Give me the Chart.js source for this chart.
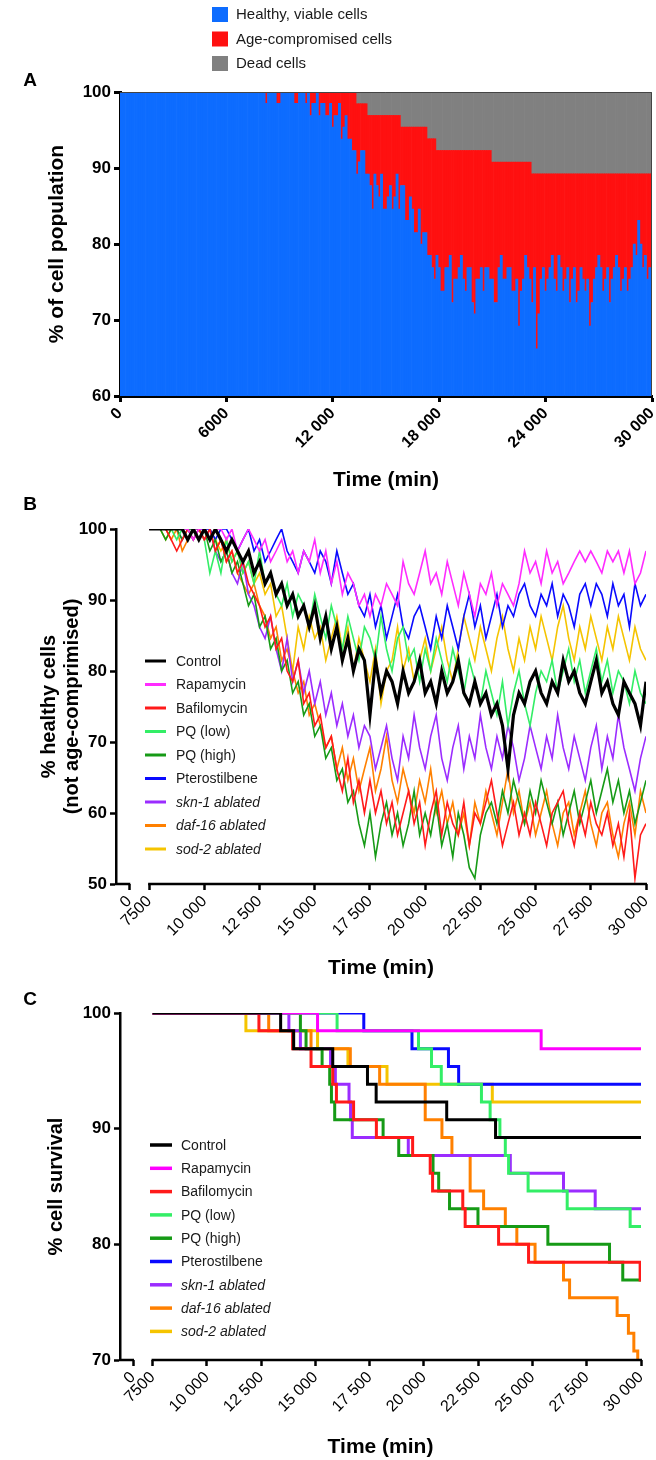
<!DOCTYPE html>
<html>
<head>
<meta charset="utf-8">
<script src="https://cdn.jsdelivr.net/npm/chart.js@4.4.0/dist/chart.umd.min.js"></script>
<style>
  body { margin: 0; background: #fff; }
  #wrap { position: relative; width: 656px; height: 1460px; }
  canvas { position: absolute; left: 0; }
</style>
</head>
<body>
<div id="wrap">
  <canvas id="chartA" width="656" height="500" style="top:0"></canvas>
  <canvas id="chartB" width="656" height="515" style="top:470px"></canvas>
  <canvas id="chartC" width="656" height="500" style="top:960px"></canvas>
</div>
<script>
// ---------- panel A: population state, one bar every 125 min ----------
let popTimes = [];
for (let t = 0; t <= 30000; t += 125) popTimes.push(t);

let healthyPct = [
  // 0 - 7875
  100,100,100,100,100,100,100,100, 100,100,100,100,100,100,100,100,
  100,100,100,100,100,100,100,100, 100,100,100,100,100,100,100,100,
  100,100,100,100,100,100,100,100, 100,100,100,100,100,100,100,100,
  100,100,100,100,100,100,100,100, 100,100,100,100,100,100,100,100,
  // 8000 - 29875, 1000 min per row
  100,100,98.5,100,100,100,100,98.5,
  98.5,100,100,100,100,100,100,98.5,
  98.5,100,100,100,98.5,100,96.9,98.5,
  98.5,100,96.9,98.5,98.5,96.9,96.9,98.5,
  95.4,96.9,96.9,98.5,93.8,95.4,96.9,93.8,
  93.8,92.3,92.3,89.2,90.8,92.3,92.3,89.2,
  89.2,87.7,84.6,89.2,87.7,86.2,89.2,84.6,
  84.6,86.2,87.7,84.6,86.2,89.2,84.6,87.7,
  87.7,83.1,83.1,86.2,84.6,81.5,81.5,84.6,
  80,81.5,81.5,78.5,78.5,76.9,75.4,78.5,
  76.9,73.8,73.8,76.9,76.9,78.5,72.3,75.4,
  75.4,76.9,78.5,75.4,73.8,76.9,76.9,72.3,
  70.8,75.4,75.4,76.9,73.8,76.9,76.9,75.4,
  75.4,72.3,72.3,76.9,78.5,75.4,75.4,76.9,
  76.9,73.8,73.8,75.4,69.2,73.8,75.4,78.5,
  76.9,75.4,72.3,76.9,66.2,70.8,75.4,76.9,
  73.8,75.4,76.9,78.5,75.4,73.8,78.5,76.9,
  73.8,75.4,76.9,72.3,75.4,76.9,72.3,73.8,
  76.9,75.4,73.8,75.4,69.2,72.3,75.4,76.9,
  78.5,76.9,73.8,75.4,76.9,72.3,75.4,76.9,
  78.5,76.9,73.8,75.4,76.9,73.8,75.4,76.9,
  80,78.5,83.1,80,76.9,78.5,75.4,76.9,
  // 30000
  75.4
];
// dead fraction only ever steps up
let deadFrom  = [13300, 14000, 15800, 17300, 17800, 21000, 23250];
let deadLevel = [1.54, 3.08, 4.62, 6.15, 7.69, 9.23, 10.77];

// ---------- panel B: % healthy cells, sampled every 250 min ----------
let timesB = [];
for (let t = 7500; t <= 30000; t += 250) timesB.push(t);
let tickMarksB = [6600, 7500, 10000, 12500, 15000, 17500, 20000, 22500, 25000, 27500, 30000];
const ZERO_MARK = 6600; // where the "0" sits before the axis break

let controlB = [
  100,100,100,100,100,100,100,98.5,100,98.5,
  100,98.5,100,98.5,96.9,98.5,96.9,95.4,96.9,93.8,
  95.4,92.3,93.8,90.8,92.3,89.2,90.8,87.7,89.2,86.2,
  89.2,84.6,87.7,83.1,86.2,81.5,84.6,80,83.1,81.5,
  73.8,81.5,76.9,80,78.5,75.4,80,76.9,78.5,81.5,
  76.9,78.5,75.4,80,76.9,78.5,81.5,76.9,75.4,78.5,
  75.4,76.9,73.8,75.4,72.3,66.2,73.8,76.9,75.4,78.5,
  80,76.9,75.4,78.5,76.9,81.5,78.5,80,76.9,75.4,
  78.5,81.5,76.9,78.5,75.4,73.8,78.5,76.9,75.4,72.3,
  78.5
];
let rapamycinB = [
  100,100,100,100,100,100,100,100,98.5,100,
  100,98.5,100,100,98.5,100,96.9,98.5,100,98.5,
  96.9,98.5,95.4,96.9,98.5,95.4,96.9,93.8,96.9,95.4,
  98.5,93.8,96.9,92.3,95.4,90.8,93.8,92.3,89.2,90.8,
  87.7,90.8,89.2,92.3,90.8,89.2,95.4,92.3,90.8,93.8,
  96.9,92.3,93.8,90.8,95.4,92.3,89.2,93.8,90.8,87.7,
  92.3,90.8,93.8,89.2,92.3,90.8,89.2,92.3,96.9,93.8,
  95.4,92.3,96.9,93.8,95.4,92.3,93.8,95.4,96.9,95.4,
  96.9,95.4,93.8,96.9,95.4,96.9,93.8,96.9,92.3,93.8,
  96.9
];
let bafilomycinB = [
  100,100,100,100,98.5,96.9,98.5,100,98.5,100,
  98.5,100,96.9,98.5,95.4,96.9,93.8,95.4,92.3,90.8,
  89.2,86.2,87.7,83.1,84.6,80,78.5,81.5,75.4,76.9,
  72.3,73.8,69.2,70.8,66.2,63.1,67.7,61.5,64.6,60,
  64.6,60,63.1,58.5,61.5,56.9,60,63.1,58.5,61.5,
  55.4,60,63.1,56.9,61.5,58.5,56.9,61.5,55.4,60,
  58.5,61.5,64.6,60,55.4,58.5,61.5,56.9,60,56.9,
  61.5,58.5,55.4,60,61.5,63.1,58.5,55.4,60,56.9,
  61.5,58.5,56.9,60,55.4,58.5,53.8,60,50.8,56.9,
  58.5
];
let pqLowB = [
  100,100,100,100,100,98.5,100,100,98.5,100,
  98.5,93.8,96.9,93.8,98.5,95.4,96.9,93.8,95.4,92.3,
  96.9,92.3,93.8,90.8,89.2,92.3,87.7,90.8,89.2,86.2,
  90.8,87.7,84.6,89.2,86.2,83.1,87.7,84.6,81.5,86.2,
  84.6,81.5,87.7,83.1,80,84.6,86.2,81.5,83.1,78.5,
  83.1,80,84.6,81.5,78.5,83.1,80,76.9,81.5,78.5,
  75.4,80,76.9,73.8,78.5,72.3,76.9,80,75.4,72.3,
  76.9,80,78.5,81.5,76.9,80,83.1,78.5,81.5,76.9,
  80,83.1,78.5,81.5,76.9,80,78.5,75.4,80,76.9,
  75.4
];
let pqHighB = [
  100,100,100,98.5,100,100,98.5,100,100,98.5,
  100,96.9,98.5,95.4,96.9,93.8,95.4,92.3,89.2,90.8,
  86.2,87.7,83.1,84.6,80,81.5,76.9,78.5,73.8,75.4,
  70.8,72.3,67.7,69.2,64.6,66.2,61.5,63.1,58.5,55.4,
  60,53.8,58.5,61.5,56.9,60,55.4,58.5,63.1,56.9,
  60,56.9,61.5,55.4,58.5,53.8,60,56.9,52.3,50.8,
  56.9,60,61.5,58.5,63.1,60,64.6,61.5,58.5,63.1,
  60,64.6,61.5,58.5,61.5,56.9,60,63.1,58.5,61.5,
  64.6,60,63.1,66.2,61.5,64.6,60,63.1,58.5,61.5,
  64.6
];
let pterostilbeneB = [
  100,100,100,100,100,100,100,100,98.5,100,
  100,100,98.5,100,100,98.5,96.9,98.5,100,96.9,
  98.5,95.4,96.9,98.5,100,96.9,95.4,93.8,96.9,95.4,
  93.8,96.9,95.4,92.3,96.9,93.8,90.8,92.3,89.2,87.7,
  90.8,86.2,89.2,84.6,87.7,90.8,86.2,84.6,87.7,89.2,
  86.2,83.1,87.7,84.6,89.2,86.2,83.1,87.7,90.8,86.2,
  89.2,84.6,87.7,90.8,86.2,89.2,87.7,90.8,92.3,89.2,
  87.7,90.8,89.2,92.3,87.7,90.8,89.2,86.2,90.8,92.3,
  89.2,92.3,90.8,87.7,92.3,89.2,90.8,86.2,92.3,89.2,
  90.8
];
let skn1B = [
  100,100,100,100,100,100,98.5,100,100,100,
  98.5,100,96.9,95.4,96.9,93.8,92.3,95.4,90.8,89.2,
  86.2,84.6,87.7,83.1,80,84.6,78.5,81.5,76.9,80,
  75.4,78.5,73.8,76.9,72.3,75.4,70.8,73.8,69.2,72.3,
  70.8,66.2,69.2,72.3,67.7,64.6,70.8,67.7,73.8,69.2,
  66.2,70.8,73.8,67.7,64.6,69.2,72.3,66.2,70.8,67.7,
  73.8,69.2,66.2,70.8,67.7,72.3,69.2,64.6,67.7,72.3,
  69.2,66.2,70.8,67.7,73.8,69.2,66.2,70.8,67.7,64.6,
  69.2,72.3,66.2,70.8,67.7,73.8,69.2,66.2,63.1,67.7,
  70.8
];
let daf16B = [
  100,100,100,100,98.5,100,96.9,98.5,100,100,
  98.5,100,96.9,98.5,95.4,96.9,93.8,92.3,90.8,92.3,
  89.2,87.7,84.6,86.2,81.5,83.1,80,76.9,78.5,73.8,
  75.4,72.3,69.2,70.8,66.2,69.2,64.6,67.7,63.1,66.2,
  69.2,63.1,66.2,70.8,64.6,61.5,66.2,63.1,60,64.6,
  61.5,66.2,60,63.1,58.5,61.5,56.9,60,55.4,61.5,
  58.5,63.1,60,56.9,61.5,66.2,60,63.1,58.5,61.5,
  56.9,60,63.1,58.5,55.4,60,61.5,56.9,60,63.1,
  58.5,55.4,60,61.5,56.9,53.8,58.5,61.5,56.9,63.1,
  60
];
let sod2B = [
  100,100,100,98.5,100,100,100,98.5,100,100,
  98.5,100,98.5,96.9,98.5,95.4,96.9,93.8,95.4,92.3,
  93.8,90.8,92.3,87.7,89.2,84.6,80,86.2,83.1,87.7,
  84.6,86.2,81.5,84.6,87.7,83.1,86.2,80,84.6,81.5,
  78.5,83.1,75.4,80,81.5,86.2,80,83.1,78.5,81.5,
  84.6,80,83.1,86.2,81.5,78.5,83.1,87.7,84.6,81.5,
  86.2,83.1,80,84.6,87.7,83.1,80,84.6,81.5,86.2,
  83.1,87.7,84.6,81.5,86.2,89.2,84.6,81.5,86.2,83.1,
  87.7,84.6,81.5,86.2,83.1,87.7,84.6,81.5,86.2,83.1,
  81.5
];

// ---------- panel C: survival, time of each drop and the new level ----------
let controlT = [7500, 13400, 14000, 15800, 17400, 17800, 21050, 23300, 30000];
let controlS = [100, 98.46, 96.92, 95.38, 93.85, 92.31, 90.77, 89.23, 89.23];
let rapamycinT = [7500, 15100, 25400, 30000];
let rapamycinS = [100, 98.46, 96.92, 96.92];
let bafilomycinT = [7500, 12400, 13950, 14800, 15800, 15970, 16760, 17810, 19480, 20290, 20400, 21790, 21900, 23440, 24820, 29960, 30000];
let bafilomycinS = [100, 98.46, 96.92, 95.38, 93.85, 92.31, 90.77, 89.23, 87.69, 86.15, 84.62, 83.08, 81.54, 80, 78.46, 76.92, 76.92];
let pqLowT = [7500, 16000, 19750, 20350, 20800, 22650, 23050, 23500, 23750, 23900, 24800, 26600, 29500, 30000];
let pqLowS = [100, 98.46, 96.92, 95.38, 93.85, 92.31, 90.77, 89.23, 87.69, 86.15, 84.62, 83.08, 81.54, 81.54];
let pqHighT = [7500, 14310, 14570, 15310, 15660, 15740, 15890, 18120, 18840, 20420, 20680, 21180, 22490, 25710, 28550, 29160, 30000];
let pqHighS = [100, 98.46, 96.92, 95.38, 93.85, 92.31, 90.77, 89.23, 87.69, 86.15, 84.62, 83.08, 81.54, 80, 78.46, 76.92, 76.92];
let pterostilbeneT = [7500, 17230, 19450, 21130, 21600, 30000];
let pterostilbeneS = [100, 98.46, 96.92, 95.38, 93.85, 93.85];
let skn1T = [7500, 13780, 14310, 15700, 15920, 16550, 16620, 16700, 19280, 23980, 26430, 27890, 30000];
let skn1S = [100, 98.46, 96.92, 95.38, 93.85, 92.31, 90.77, 89.23, 87.69, 86.15, 84.62, 83.08, 83.08];
let daf16T = [7500, 12850, 14800, 16610, 17960, 20060, 20830, 21290, 22130, 22750, 23750, 24280, 25120, 26430, 26710, 28900, 29420, 29670, 29850, 30000];
let daf16S = [100, 98.46, 96.92, 95.38, 93.85, 90.77, 89.23, 87.69, 84.62, 83.08, 81.54, 80, 78.46, 76.92, 75.38, 73.85, 72.31, 70.77, 69.23, 69.23];
let sod2T = [7500, 11800, 15100, 16500, 18300, 23150, 30000];
let sod2S = [100, 98.46, 96.92, 95.38, 93.85, 92.31, 92.31];

let seriesNames = ['Control', 'Rapamycin', 'Bafilomycin', 'PQ (low)', 'PQ (high)', 'Pterostilbene', 'skn-1 ablated', 'daf-16 ablated', 'sod-2 ablated'];
let seriesColors = ['#000000', '#ff2cff', '#ff1a1a', '#33ee66', '#169a16', '#0a0aff', '#9b2cff', '#ff8000', '#f5c400'];

// ---------- helpers ----------
Chart.defaults.font.family = '"Liberation Sans", Arial, sans-serif';
Chart.defaults.color = '#000';
Chart.defaults.animation = false;

function fmtTime(v) {
  if (v >= 10000) return String(v).replace(/\B(?=(\d{3})+(?!\d))/g, ' ');
  return String(v);
}
function pairs(xs, ys) {
  return xs.map((x, i) => ({ x: x, y: ys[i] }));
}

let deadPct = popTimes.map(function(t) {
  let d = 0;
  deadFrom.forEach(function(from, i) { if (t >= from) d = deadLevel[i]; });
  return d;
});
let agedPct = popTimes.map((t, i) => +(100 - healthyPct[i] - deadPct[i]).toFixed(2));

// panel letter
const panelTag = {
  id: 'panelTag',
  afterDraw(chart, args, opts) {
    const ctx = chart.ctx;
    ctx.save();
    ctx.font = 'bold 19px "Liberation Sans"';
    ctx.fillStyle = '#000';
    ctx.textAlign = 'center';
    ctx.textBaseline = 'middle';
    ctx.fillText(opts.text, opts.x, opts.y);
    ctx.restore();
  }
};

// colour boxes above panel A
const boxKey = {
  id: 'boxKey',
  afterDraw(chart, args, opts) {
    const ctx = chart.ctx;
    ctx.save();
    ctx.font = opts.size + 'px "Liberation Sans"';
    ctx.textBaseline = 'middle';
    chart.data.datasets.forEach(function(ds, i) {
      const y = opts.top + i * opts.gap;
      ctx.fillStyle = ds.backgroundColor;
      ctx.fillRect(opts.left, y - opts.box / 2, opts.box, opts.box - 1);
      ctx.fillStyle = '#1a1a1a';
      ctx.fillText(ds.label, opts.left + opts.box + opts.textGap, y);
    });
    ctx.restore();
  }
};

// thin frame on the top and right of panel A
const frameLines = {
  id: 'frameLines',
  afterDraw(chart) {
    const a = chart.chartArea, ctx = chart.ctx;
    ctx.save();
    ctx.strokeStyle = '#444';
    ctx.lineWidth = 1;
    ctx.beginPath();
    ctx.moveTo(a.left, a.top + 0.5);
    ctx.lineTo(a.right - 0.5, a.top + 0.5);
    ctx.lineTo(a.right - 0.5, a.bottom);
    ctx.stroke();
    ctx.restore();
  }
};

// line samples + names for B and C
const lineKey = {
  id: 'lineKey',
  afterDraw(chart, args, opts) {
    const ctx = chart.ctx;
    ctx.save();
    ctx.textBaseline = 'middle';
    chart.data.datasets.forEach(function(ds, i) {
      const y = opts.top + i * opts.gap;
      ctx.strokeStyle = ds.borderColor;
      ctx.lineWidth = opts.lineWidth;
      ctx.beginPath();
      ctx.moveTo(opts.left, y);
      ctx.lineTo(opts.left + opts.len, y);
      ctx.stroke();
      ctx.font = (ds.label.indexOf('ablated') >= 0 ? 'italic ' : '') + opts.size + 'px "Liberation Sans"';
      ctx.fillStyle = '#1a1a1a';
      ctx.fillText(ds.label, opts.left + opts.len + opts.textGap, y + 1);
    });
    ctx.restore();
  }
};

// x axis with a break between 0 and 7500
const brokenAxis = {
  id: 'brokenAxis',
  afterDraw(chart, args, opts) {
    const x = chart.scales.x, a = chart.chartArea, ctx = chart.ctx;
    ctx.save();
    ctx.strokeStyle = '#000';
    ctx.lineWidth = opts.width;
    ctx.beginPath();
    ctx.moveTo(a.left - 1, a.bottom);
    ctx.lineTo(x.getPixelForValue(opts.zeroAt) + 1, a.bottom);
    ctx.moveTo(x.getPixelForValue(opts.restartAt) - 1, a.bottom);
    ctx.lineTo(a.right + 1, a.bottom);
    ctx.stroke();
    ctx.restore();
  }
};

function tickGrid(width) {
  return { display: true, drawOnChartArea: false, drawTicks: true, tickLength: 6, tickWidth: width, tickColor: '#000' };
}

// ---------- A ----------
new Chart(document.getElementById('chartA'), {
  type: 'bar',
  data: {
    datasets: [
      { label: 'Healthy, viable cells', data: pairs(popTimes, healthyPct), backgroundColor: '#0d6cff' },
      { label: 'Age-compromised cells', data: pairs(popTimes, agedPct), backgroundColor: '#ff1010' },
      { label: 'Dead cells', data: pairs(popTimes, deadPct), backgroundColor: '#808080' }
    ]
  },
  options: {
    responsive: false,
    layout: { padding: { left: 0, right: 4, top: 92, bottom: 0 } },
    datasets: { bar: { barPercentage: 1, categoryPercentage: 1, borderWidth: 0 } },
    scales: {
      x: {
        type: 'linear', stacked: true, offset: false, min: 0, max: 30000,
        ticks: { stepSize: 6000, autoSkip: false, minRotation: 45, maxRotation: 45, padding: 2,
                 font: { size: 16, weight: 'bold' }, callback: v => fmtTime(v) },
        grid: Object.assign(tickGrid(3), { offset: false }),
        border: { display: true, width: 3, color: '#000' },
        title: { display: true, text: 'Time (min)', font: { size: 21, weight: 'bold' }, padding: { top: 0, bottom: 7 } },
        afterFit: s => { s.height = 104; s.paddingLeft = 0; s.paddingRight = 0; }
      },
      y: {
        stacked: true, min: 60, max: 100,
        ticks: { stepSize: 10, font: { size: 17, weight: 'bold' } },
        grid: tickGrid(3),
        border: { display: true, width: 3, color: '#000' },
        title: { display: true, text: '% of cell population', font: { size: 21, weight: 'bold' }, padding: { top: 45, bottom: 0 } },
        afterFit: s => { s.width = 120; s.paddingTop = 0; s.paddingBottom = 0; }
      }
    },
    plugins: {
      legend: { display: false },
      tooltip: { enabled: false },
      boxKey: { left: 212, top: 15, gap: 24.5, box: 16, textGap: 8, size: 15 },
      panelTag: { text: 'A', x: 30, y: 81 }
    }
  },
  plugins: [frameLines, boxKey, panelTag]
});

// ---------- B ----------
let healthySeries = [controlB, rapamycinB, bafilomycinB, pqLowB, pqHighB, pterostilbeneB, skn1B, daf16B, sod2B];
new Chart(document.getElementById('chartB'), {
  type: 'line',
  data: {
    datasets: healthySeries.map(function(vals, i) {
      return {
        label: seriesNames[i],
        data: pairs(timesB, vals),
        borderColor: seriesColors[i],
        borderWidth: i === 0 ? 3.2 : 1.6,
        pointRadius: 0,
        tension: 0
      };
    })
  },
  options: {
    responsive: false,
    layout: { padding: { left: 0, right: 10, top: 59, bottom: 0 } },
    scales: {
      x: {
        type: 'linear', min: 6000, max: 30000,
        afterBuildTicks: s => { s.ticks = tickMarksB.map(v => ({ value: v })); },
        ticks: { autoSkip: false, minRotation: 45, maxRotation: 45, padding: 2, font: { size: 16 },
                 callback: v => (v === ZERO_MARK ? '0' : fmtTime(v)) },
        grid: tickGrid(2.5),
        border: { display: false },
        title: { display: true, text: 'Time (min)', font: { size: 21, weight: 'bold' }, padding: { top: 0, bottom: 4 } },
        afterFit: s => { s.height = 101; s.paddingLeft = 0; s.paddingRight = 0; }
      },
      y: {
        min: 50, max: 100,
        ticks: { stepSize: 10, font: { size: 17, weight: 'bold' } },
        grid: tickGrid(2.5),
        border: { display: true, width: 2.5, color: '#000' },
        title: { display: true, text: ['% healthy cells', '(not age-comprimised)'], font: { size: 20, weight: 'bold', lineHeight: 1.15 },
                 padding: { top: 38, bottom: 0 } },
        afterFit: s => { s.width = 116; s.paddingTop = 0; s.paddingBottom = 0; }
      }
    },
    plugins: {
      legend: { display: false },
      tooltip: { enabled: false },
      lineKey: { left: 145, len: 21, textGap: 10, top: 191, gap: 23.5, size: 14, lineWidth: 3 },
      brokenAxis: { zeroAt: ZERO_MARK, restartAt: 7500, width: 2.5 },
      panelTag: { text: 'B', x: 30, y: 35 }
    }
  },
  plugins: [brokenAxis, lineKey, panelTag]
});

// ---------- C ----------
let survT = [controlT, rapamycinT, bafilomycinT, pqLowT, pqHighT, pterostilbeneT, skn1T, daf16T, sod2T];
let survS = [controlS, rapamycinS, bafilomycinS, pqLowS, pqHighS, pterostilbeneS, skn1S, daf16S, sod2S];
new Chart(document.getElementById('chartC'), {
  type: 'line',
  data: {
    datasets: survT.map(function(ts, i) {
      return {
        label: seriesNames[i],
        data: pairs(ts, survS[i]),
        borderColor: i === 1 ? '#ff00ff' : seriesColors[i],
        borderWidth: 3,
        pointRadius: 0,
        stepped: 'before'
      };
    })
  },
  options: {
    responsive: false,
    layout: { padding: { left: 0, right: 15, top: 53, bottom: 0 } },
    scales: {
      x: {
        type: 'linear', min: 6000, max: 30000,
        afterBuildTicks: s => { s.ticks = tickMarksB.map(v => ({ value: v })); },
        ticks: { autoSkip: false, minRotation: 45, maxRotation: 45, padding: 2, font: { size: 16 },
                 callback: v => (v === ZERO_MARK ? '0' : fmtTime(v)) },
        grid: tickGrid(2.5),
        border: { display: false },
        title: { display: true, text: 'Time (min)', font: { size: 21, weight: 'bold' }, padding: { top: 0, bottom: 0 } },
        afterFit: s => { s.height = 100; s.paddingLeft = 0; s.paddingRight = 0; }
      },
      y: {
        min: 70, max: 100,
        ticks: { stepSize: 10, font: { size: 17, weight: 'bold' } },
        grid: tickGrid(2.5),
        border: { display: true, width: 2.5, color: '#000' },
        title: { display: true, text: '% cell survival', font: { size: 20, weight: 'bold' }, padding: { top: 44, bottom: 0 } },
        afterFit: s => { s.width = 120; s.paddingTop = 0; s.paddingBottom = 0; }
      }
    },
    plugins: {
      legend: { display: false },
      tooltip: { enabled: false },
      lineKey: { left: 150, len: 22, textGap: 9, top: 185, gap: 23.3, size: 14, lineWidth: 3.5 },
      brokenAxis: { zeroAt: ZERO_MARK, restartAt: 7500, width: 2.5 },
      panelTag: { text: 'C', x: 30, y: 40 }
    }
  },
  plugins: [brokenAxis, lineKey, panelTag]
});
</script>
</body>
</html>
